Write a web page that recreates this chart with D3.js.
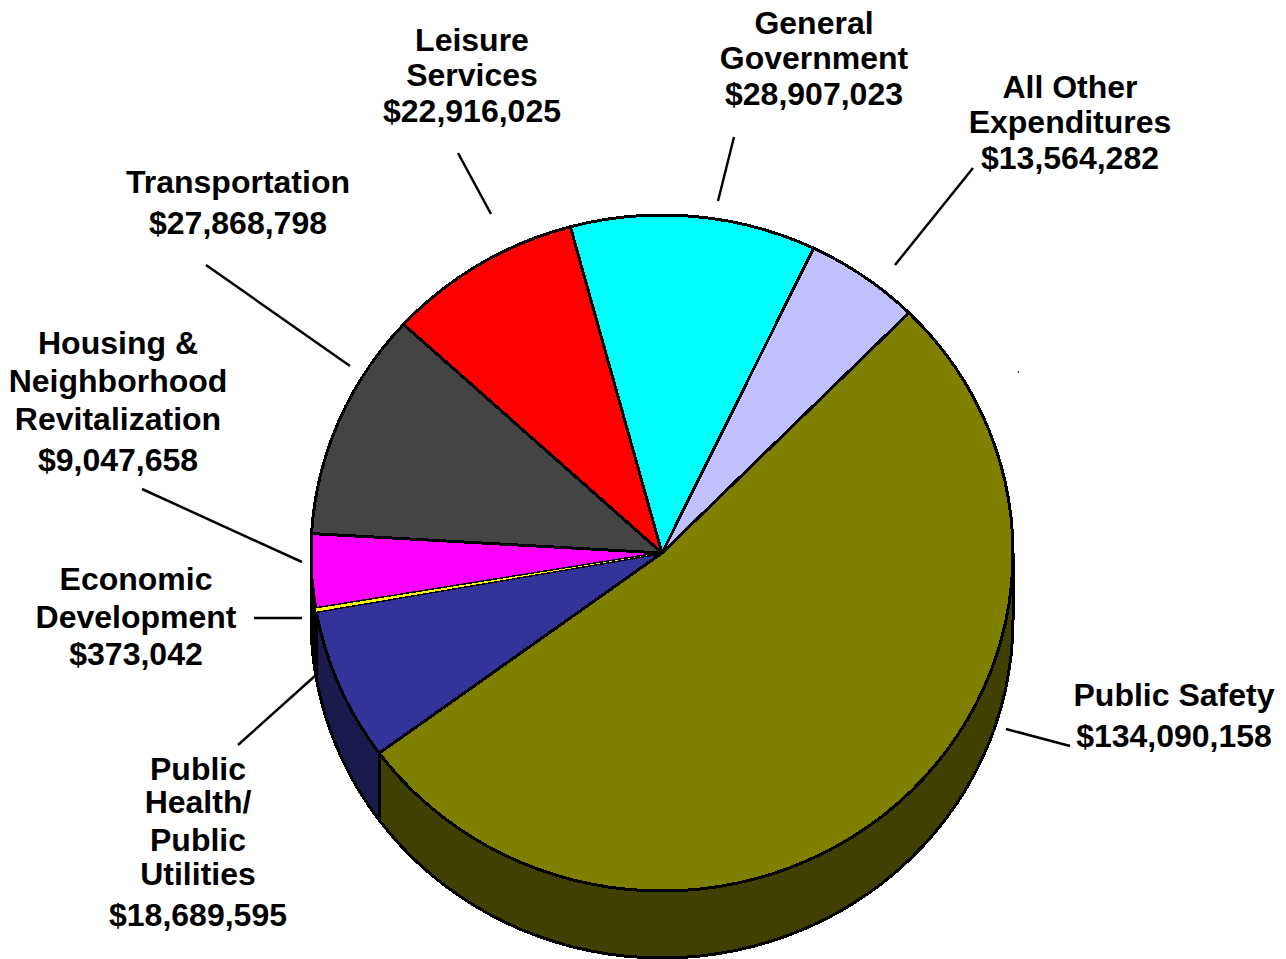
<!DOCTYPE html>
<html><head><meta charset="utf-8">
<script src="https://cdn.jsdelivr.net/npm/d3@7"></script>
<style>html,body{margin:0;padding:0;background:#fff;overflow:hidden}svg{display:block}
text{font-family:"Liberation Sans",Arial,sans-serif;font-weight:700;font-size:32px;fill:#000;text-anchor:middle}</style>
</head><body><svg id="c" width="1286" height="959"></svg>
<script>
const categories=["All Other Expenditures","Public Safety","Public Health/ Public Utilities","Economic Development","Housing & Neighborhood Revitalization","Transportation","Leisure Services","General Government"];
const values=[13564282,134090158,18689595,373042,9047658,27868798,22916025,28907023];
const topColors=["#C0C0FF","#808000","#333399","#FFFF00","#FF00FF","#444444","#FF0000","#00FFFF"];
const wallColors=["#606080","#404000","#1A1A4D","#000000","#000000","#222222","#800000","#008080"];
const labelLines=[["All Other","Expenditures"],["Public Safety"],["Public","Health/","Public","Utilities"],["Economic","Development"],["Housing &","Neighborhood","Revitalization"],["Transportation"],["Leisure","Services"],["General","Government"]];
const labelX=[1070,1174,198,136,118,238,472,814];
const labelBaselines=[[98,133,169],[706,747],[780,813,851,885,926],[590,628,665],[354,392,430,471],[193,234],[51,86,122],[34,69,105]];
const leaders=[[973,168,895,265],[1006,729,1070,746],[238,745,316,675],[254,618,302,618],[142,489,302,562],[206,265,350,366],[458,153,491,214],[734,137,718,201]];

const cx=662,cy=553,rx=351,ry=338,depth=67,deg=Math.PI/180;
const svg=d3.select("#c");
const fmt=d3.format("$,");
const arcs=d3.pie().sort(null).value(d=>d).startAngle(25.6*deg).endAngle(385.6*deg)(values);
const pt=(a,dy=0)=>[cx+rx*Math.sin(a),cy-ry*Math.cos(a)+dy];
const sample=(a0,a1,dy=0)=>{const n=Math.max(1,Math.ceil((a1-a0)/(3*deg)));return d3.range(n+1).map(i=>pt(a0+(a1-a0)*i/n,dy));};
const line=d3.line();

// side walls: only the front half of the ellipse (90° to 270°) is visible
const walls=svg.append("g").attr("shape-rendering","crispEdges");
arcs.forEach((d,i)=>{
  const a0=Math.max(d.startAngle,90*deg),a1=Math.min(d.endAngle,270*deg);
  if(a1<=a0)return;
  const poly=sample(a0,a1).concat(sample(a0,a1,depth).reverse());
  walls.append("path").attr("d",line(poly)+"Z").attr("fill",wallColors[i]).attr("stroke","#000").attr("stroke-width",3).attr("stroke-linejoin","round");
});
// top face
const tops=svg.append("g").attr("shape-rendering","crispEdges");
arcs.forEach((d,i)=>{
  const poly=[[cx,cy]].concat(sample(d.startAngle,d.endAngle));
  tops.append("path").attr("d",line(poly)+"Z").attr("fill",topColors[i]).attr("stroke","#000").attr("stroke-width",3).attr("stroke-linejoin","round");
});
// the thinnest slice is redrawn without an outline, so its colour survives the neighbours' strokes
const thin=arcs[categories.indexOf("Economic Development")];
tops.append("path").attr("d",line([[cx,cy]].concat(sample(thin.startAngle,thin.endAngle)))+"Z").attr("fill",topColors[categories.indexOf("Economic Development")]);
// leader lines
svg.append("g").selectAll("line").data(leaders).join("line")
  .attr("x1",d=>d[0]).attr("y1",d=>d[1]).attr("x2",d=>d[2]).attr("y2",d=>d[3])
  .attr("stroke","#000").attr("stroke-width",2.5);
svg.append("line").attr("x1",1018).attr("y1",373).attr("x2",1019).attr("y2",371).attr("stroke","#000").attr("stroke-width",1);
// labels
const labels=svg.append("g");
categories.forEach((c,i)=>{
  const rows=labelLines[i].concat([fmt(values[i])]);
  const t=labels.append("text").attr("x",labelX[i]);
  rows.forEach((r,j)=>t.append("tspan").attr("x",labelX[i]).attr("y",labelBaselines[i][j]).text(r));
});
</script></body></html>
